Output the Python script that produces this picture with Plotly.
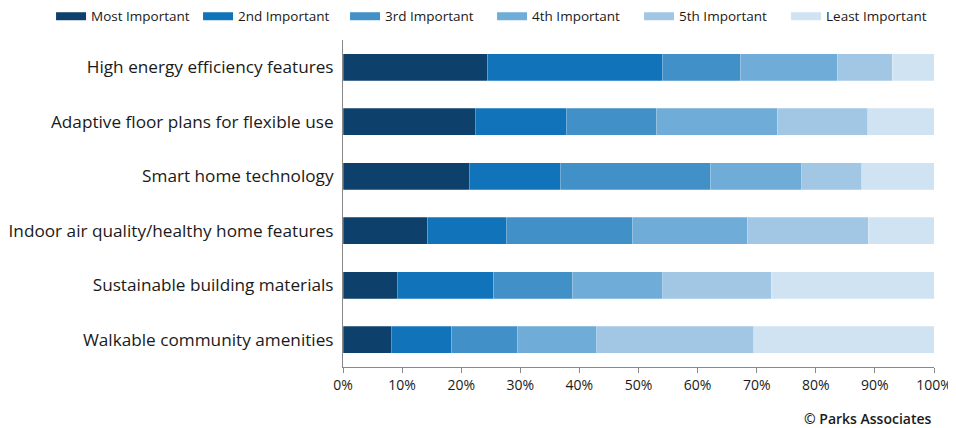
import plotly.graph_objects as go

categories = [
    "High energy efficiency features",
    "Adaptive floor plans for flexible use",
    "Smart home technology",
    "Indoor air quality/healthy home features",
    "Sustainable building materials",
    "Walkable community amenities",
]
series_names = ["Most Important", "2nd Important", "3rd Important",
                "4th Important", "5th Important", "Least Important"]
most_important = [24.5, 22.4, 21.4, 14.3, 9.2, 8.2]
second_important = [29.5, 15.4, 15.4, 13.3, 16.3, 10.2]
third_important = [13.2, 15.3, 25.4, 21.4, 13.3, 11.2]
fourth_important = [16.4, 20.4, 15.4, 19.4, 15.3, 13.3]
fifth_important = [9.3, 15.3, 10.2, 20.5, 18.4, 26.6]
least_important = [7.1, 11.2, 12.2, 11.1, 27.5, 30.5]
tick_values = [0, 10, 20, 30, 40, 50, 60, 70, 80, 90, 100]
tick_labels = ["0%", "10%", "20%", "30%", "40%", "50%", "60%", "70%", "80%", "90%", "100%"]

colors = ["#0d416b", "#1174ba", "#4190c8", "#70acd8", "#a2c7e4", "#d0e3f2"]
series_values = [most_important, second_important, third_important,
                 fourth_important, fifth_important, least_important]

FONT = "Open Sans"
fig = go.Figure()
for name, vals, col in zip(series_names, series_values, colors):
    fig.add_trace(go.Bar(
        y=categories, x=vals, name=name, orientation="h",
        marker=dict(color=col, line=dict(color="rgba(255,255,255,0.5)", width=0.5)),
        width=0.5, legendgroup=name, showlegend=False,
    ))
# legend entries drawn as wide, thin swatches (same groups as the bars)
for name, col in zip(series_names, colors):
    fig.add_trace(go.Scatter(
        x=[None], y=[None], mode="lines", name=name, legendgroup=name,
        line=dict(color=col, width=8), hoverinfo="skip",
    ))

# page has an 8px body margin, so the figure is sized/offset accordingly
fig.update_layout(
    barmode="stack",
    width=948, height=420,
    margin=dict(l=335, r=22, t=32, b=61, autoexpand=False),
    paper_bgcolor="white", plot_bgcolor="white",
    font=dict(family=FONT, color="#1a1a1a"),
    legend=dict(orientation="h", x=-0.494, xanchor="left",
                y=1.072, yanchor="middle",
                font=dict(size=13.5, color="#1a1a1a", weight=500),
                traceorder="normal", itemwidth=30, entrywidth=102),
    showlegend=True,
)
fig.update_xaxes(range=[0, 100], tickvals=tick_values, ticktext=tick_labels,
                 showgrid=False, zeroline=False, showline=True, linecolor="#888888",
                 ticks="outside", ticklen=5, tickcolor="#888888",
                 tickfont=dict(size=14, color="#1a1a1a"))
fig.update_yaxes(autorange="reversed", showgrid=False, showline=True, linecolor="#888888",
                 ticks="", ticklabelstandoff=5, automargin=False,
                 tickfont=dict(size=17.2, color="#1a1a1a", weight=500))
fig.add_annotation(text="© Parks Associates", xref="paper", yref="paper",
                   x=1.0, y=-0.158, xanchor="right", yanchor="middle", showarrow=False,
                   font=dict(size=14, color="#1a1a1a", family=FONT, weight=600))
fig.write_html("out.html")
